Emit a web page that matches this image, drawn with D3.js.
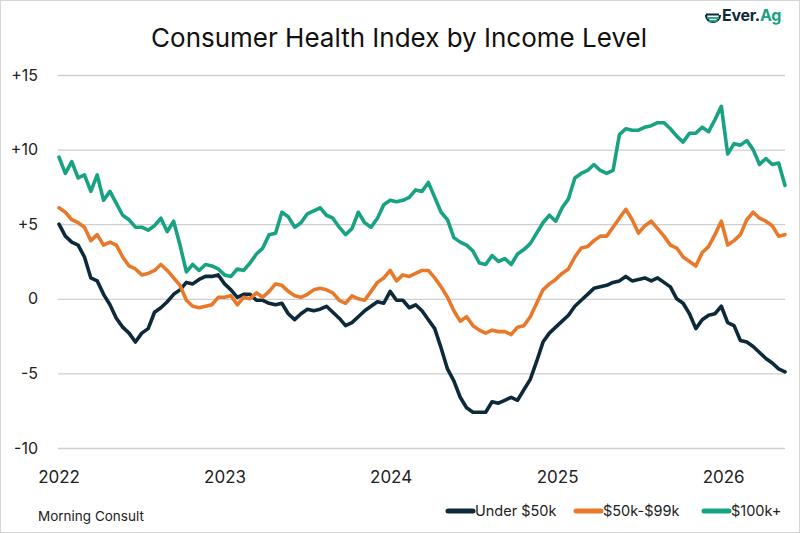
<!DOCTYPE html>
<html>
<head>
<meta charset="utf-8">
<script src="https://cdn.jsdelivr.net/npm/d3@7"></script>
<style>
  body { margin: 0; background: #fff; }
  svg { display: block; font-family: Inter, "Open Sans", sans-serif; }
</style>
</head>
<body>
<svg id="chart" width="800" height="533"></svg>
<script>
// biweekly readings, first one on 2 Jan 2022
const startDate = new Date(2022, 0, 2);
const yTicks = [-10, -5, 0, 5, 10, 15];
const yTickLabels = ["-10", "-5", "0", "+5", "+10", "+15"];
const yearTicks = [2022, 2023, 2024, 2025, 2026];

const under50k = [5.0, 4.2, 3.8, 3.6, 2.8, 1.4, 1.2, 0.3, -0.4, -1.3,
  -1.9, -2.3, -2.9, -2.3, -2.0, -0.9, -0.6, -0.2, 0.3, 0.6,
  1.1, 1.0, 1.3, 1.5, 1.5, 1.6, 1.0, 0.6, 0.1, 0.3,
  0.3, -0.1, -0.1, -0.3, -0.4, -0.3, -1.0, -1.4, -1.0, -0.7,
  -0.8, -0.7, -0.5, -0.9, -1.3, -1.8, -1.6, -1.2, -0.8, -0.5,
  -0.2, -0.3, 0.5, -0.1, -0.1, -0.6, -0.4, -0.8, -1.4, -2.0,
  -3.3, -4.7, -5.5, -6.6, -7.3, -7.6, -7.6, -7.6, -6.9, -7.0,
  -6.8, -6.6, -6.8, -6.1, -5.4, -4.2, -2.9, -2.3, -1.9, -1.5,
  -1.1, -0.5, -0.1, 0.3, 0.7, 0.8, 0.9, 1.1, 1.2, 1.5,
  1.2, 1.3, 1.4, 1.2, 1.4, 1.1, 0.8, 0.0, -0.3, -1.0,
  -2.0, -1.4, -1.1, -1.0, -0.5, -1.6, -1.8, -2.8, -2.9, -3.2,
  -3.6, -4.0, -4.3, -4.7, -4.9];

const mid50to99k = [6.1, 5.8, 5.3, 5.1, 4.8, 3.9, 4.3, 3.6, 3.8, 3.6,
  2.8, 2.2, 2.0, 1.6, 1.7, 1.9, 2.3, 1.9, 1.4, 0.9,
  -0.1, -0.5, -0.6, -0.5, -0.4, 0.1, 0.1, 0.2, -0.4, 0.1,
  0.0, 0.4, 0.1, 0.5, 1.0, 0.9, 0.5, 0.2, 0.1, 0.3,
  0.6, 0.7, 0.6, 0.4, -0.1, -0.3, 0.2, 0.0, -0.1, 0.5,
  1.1, 1.4, 1.9, 1.2, 1.6, 1.5, 1.7, 1.9, 1.9, 1.4,
  0.8, 0.1, -0.8, -1.5, -1.2, -1.8, -2.1, -2.3, -2.1, -2.2,
  -2.2, -2.4, -1.9, -1.8, -1.2, -0.3, 0.6, 1.0, 1.3, 1.7,
  2.0, 2.8, 3.4, 3.5, 3.9, 4.2, 4.2, 4.8, 5.4, 6.0,
  5.3, 4.4, 4.9, 5.2, 4.7, 4.2, 3.6, 3.4, 2.8, 2.5,
  2.2, 3.1, 3.5, 4.3, 5.2, 3.6, 3.9, 4.3, 5.3, 5.8,
  5.4, 5.2, 4.9, 4.2, 4.3];

const over100k = [9.5, 8.4, 9.2, 8.1, 8.3, 7.2, 8.3, 6.6, 7.2, 6.4,
  5.6, 5.3, 4.8, 4.8, 4.6, 4.9, 5.4, 4.5, 5.2, 3.6,
  1.8, 2.3, 1.9, 2.3, 2.2, 2.0, 1.6, 1.5, 2.0, 1.9,
  2.4, 3.0, 3.4, 4.3, 4.4, 5.8, 5.5, 4.8, 5.1, 5.7,
  5.9, 6.1, 5.6, 5.4, 4.8, 4.3, 4.7, 5.8, 5.1, 4.8,
  5.4, 6.3, 6.6, 6.5, 6.6, 6.8, 7.3, 7.2, 7.8, 6.8,
  5.8, 5.3, 4.1, 3.8, 3.6, 3.2, 2.4, 2.3, 2.9, 2.5,
  2.7, 2.3, 3.0, 3.3, 3.7, 4.4, 5.1, 5.6, 5.2, 6.1,
  6.7, 8.1, 8.4, 8.6, 9.0, 8.6, 8.4, 8.6, 11.0, 11.4,
  11.3, 11.3, 11.5, 11.6, 11.8, 11.8, 11.4, 10.9, 10.5, 11.1,
  11.1, 11.5, 11.2, 12.0, 12.9, 9.7, 10.4, 10.3, 10.6, 10.0,
  9.0, 9.4, 9.0, 9.1, 7.6];

const seriesNames = ["Under $50k", "$50k-$99k", "$100k+"];
const seriesColors = ["#0d2a3b", "#e8792b", "#17a282"];
const seriesValues = [under50k, mid50to99k, over100k];

const dates = under50k.map((d, i) => d3.timeDay.offset(startDate, i * 14));

const svg = d3.select("#chart");
const W = 800, H = 533;

// frame
svg.append("rect")
  .attr("x", 0.5).attr("y", 0.5)
  .attr("width", W - 1).attr("height", H - 1)
  .attr("fill", "#fff").attr("stroke", "#d6d6d6");

const x = d3.scaleTime()
  .domain([dates[0], dates[dates.length - 1]])
  .range([59, 785]);
const y = d3.scaleLinear().domain([-10, 15]).range([448, 75]);

svg.append("text")
  .attr("x", 399).attr("y", 47)
  .attr("text-anchor", "middle")
  .attr("font-size", 26)
  .attr("fill", "#111")
  .text("Consumer Health Index by Income Level");

// gridlines + y labels
const yAxis = svg.append("g")
  .attr("transform", "translate(58,0)")
  .call(d3.axisLeft(y).tickValues(yTicks).tickSize(-727)
    .tickFormat((d, i) => yTickLabels[i]));
yAxis.select(".domain").remove();
yAxis.selectAll(".tick line").attr("stroke", "#cfcfcf").attr("stroke-width", 1.3);
yAxis.selectAll(".tick text")
  .attr("x", -20).attr("font-size", 16).attr("fill", "#222")
  .attr("font-family", "Inter, sans-serif");

// year labels
const xAxis = svg.append("g")
  .attr("transform", "translate(0,468)")
  .call(d3.axisBottom(x)
    .tickValues(yearTicks.map(yr => new Date(yr, 0, 1)))
    .tickFormat(d3.timeFormat("%Y")).tickSize(0));
xAxis.select(".domain").remove();
xAxis.selectAll(".tick text")
  .attr("dy", "0.71em").attr("font-size", 17).attr("fill", "#222")
  .attr("font-family", "Inter, sans-serif");

const line = d3.line()
  .x((d, i) => x(dates[i]))
  .y(d => y(d));

svg.append("g").selectAll("path")
  .data(seriesValues)
  .join("path")
  .attr("d", d => line(d))
  .attr("fill", "none")
  .attr("stroke", (d, i) => seriesColors[i])
  .attr("stroke-width", 3.6)
  .attr("stroke-linejoin", "round")
  .attr("stroke-linecap", "round");

// source
svg.append("text")
  .attr("x", 38).attr("y", 521)
  .attr("font-size", 13.5).attr("fill", "#222")
  .text("Morning Consult");

// legend
const legendX = [448, 576, 704];
const leg = svg.append("g").selectAll("g")
  .data(seriesNames)
  .join("g")
  .attr("transform", (d, i) => `translate(${legendX[i]},511)`);
leg.append("line")
  .attr("x1", 0).attr("x2", 25)
  .attr("stroke", (d, i) => seriesColors[i])
  .attr("stroke-width", 5).attr("stroke-linecap", "round");
leg.append("text")
  .attr("x", 27).attr("dy", "0.35em")
  .attr("font-size", 14.5).attr("fill", "#222")
  .text(d => d);

// Ever.Ag logo
const logo = svg.append("g").attr("transform", "translate(713,15)");
logo.append("circle").attr("r", 7).attr("fill", "none")
  .attr("stroke", "#0d2a3b").attr("stroke-width", 2.2)
  .attr("stroke-dasharray", "22 30");
logo.append("line").attr("x1", -7).attr("x2", 6).attr("y1", -0.5).attr("y2", -0.5)
  .attr("stroke", "#0d2a3b").attr("stroke-width", 2);
logo.append("line").attr("x1", -6).attr("x2", 6).attr("y1", 3).attr("y2", 3)
  .attr("stroke", "#17a282").attr("stroke-width", 1.8);
logo.append("line").attr("x1", -4).attr("x2", 5).attr("y1", 6).attr("y2", 6)
  .attr("stroke", "#17a282").attr("stroke-width", 1.8);
const logoText = svg.append("text")
  .attr("x", 722).attr("y", 21)
  .attr("font-size", 16).attr("font-weight", 700)
  .attr("letter-spacing", -0.3);
logoText.append("tspan").attr("fill", "#0d2a3b").text("Ever.");
logoText.append("tspan").attr("fill", "#17a282").text("Ag");
</script>
</body>
</html>
